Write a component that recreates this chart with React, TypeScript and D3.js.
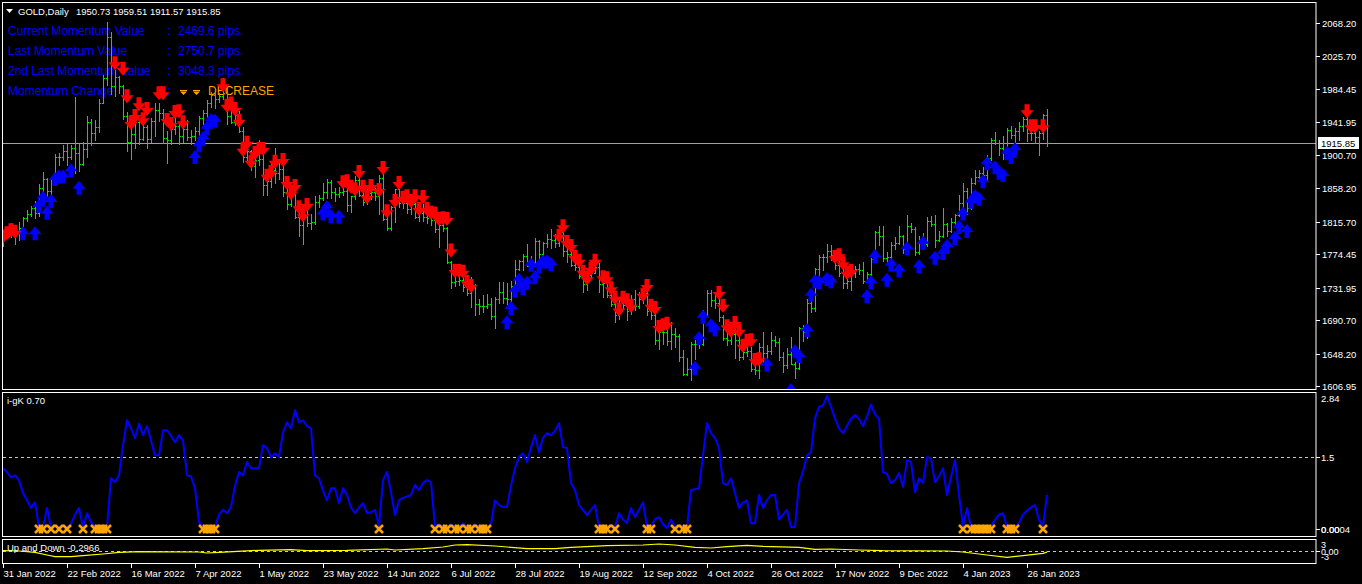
import React, { useEffect, useRef } from 'react'
import * as d3 from 'd3'

// daily bars: [open, high, low, close]
const jan22 = [[1791, 1801, 1785, 1797]]
const feb22 = [
  [1797, 1808, 1795, 1801], [1801, 1814, 1796, 1808], [1808, 1809, 1788, 1804], [1804, 1815, 1792, 1808],
  [1808, 1822, 1806, 1820], [1820, 1830, 1817, 1826], [1826, 1836, 1823, 1833], [1833, 1842, 1821, 1827],
  [1827, 1864, 1823, 1859], [1859, 1879, 1849, 1870], [1870, 1871, 1848, 1855], [1855, 1872, 1850, 1871],
  [1871, 1902, 1869, 1898], [1898, 1903, 1888, 1898], [1898, 1913, 1894, 1906], [1906, 1914, 1888, 1898],
  [1898, 1913, 1896, 1909], [1909, 1974, 1878, 1903], [1903, 1915, 1880, 1889], [1889, 1917, 1888, 1908]
]
const mar22 = [
  [1908, 1950, 1898, 1943], [1943, 1946, 1913, 1928], [1928, 1945, 1920, 1936], [1936, 1971, 1930, 1966],
  [1966, 2002, 1966, 1998], [1998, 2070, 1989, 2050], [2050, 2057, 1978, 1988], [1988, 2009, 1976, 2000],
  [2000, 2001, 1979, 1988], [1988, 1989, 1946, 1950], [1950, 1955, 1906, 1917], [1917, 1947, 1895, 1927],
  [1927, 1949, 1909, 1942], [1942, 1944, 1915, 1921], [1921, 1939, 1920, 1936], [1936, 1939, 1910, 1921],
  [1921, 1948, 1917, 1944], [1944, 1966, 1925, 1958], [1958, 1966, 1944, 1954], [1954, 1959, 1916, 1922],
  [1922, 1931, 1890, 1919], [1919, 1940, 1915, 1933], [1933, 1950, 1927, 1937]
]
const apr22 = [
  [1937, 1941, 1915, 1925], [1925, 1936, 1917, 1933], [1933, 1945, 1920, 1923], [1923, 1932, 1915, 1925],
  [1925, 1936, 1920, 1931], [1931, 1950, 1925, 1947], [1947, 1958, 1940, 1954], [1954, 1970, 1948, 1966],
  [1966, 1981, 1962, 1977], [1977, 1980, 1960, 1971], [1971, 1979, 1968, 1975], [1975, 1998, 1972, 1979],
  [1979, 1986, 1940, 1950], [1950, 1957, 1941, 1942], [1942, 1959, 1938, 1951], [1951, 1956, 1930, 1931],
  [1931, 1936, 1891, 1898], [1898, 1912, 1890, 1905], [1905, 1907, 1882, 1886], [1886, 1909, 1872, 1894],
  [1894, 1920, 1888, 1896]
]
const may22 = [
  [1896, 1900, 1850, 1862], [1862, 1873, 1850, 1868], [1868, 1892, 1860, 1881], [1881, 1910, 1865, 1877],
  [1877, 1893, 1870, 1883], [1883, 1886, 1848, 1854], [1854, 1865, 1832, 1838], [1838, 1858, 1836, 1852],
  [1852, 1858, 1821, 1822], [1822, 1829, 1798, 1811], [1811, 1826, 1787, 1824], [1824, 1835, 1810, 1814],
  [1814, 1826, 1807, 1815], [1815, 1849, 1813, 1841], [1841, 1850, 1834, 1846], [1846, 1865, 1843, 1853],
  [1853, 1870, 1846, 1866], [1866, 1869, 1846, 1853], [1853, 1858, 1842, 1851], [1851, 1860, 1847, 1853],
  [1853, 1860, 1850, 1855], [1855, 1860, 1829, 1837]
]
const jun22 = [
  [1837, 1849, 1828, 1848], [1848, 1874, 1844, 1869], [1869, 1872, 1848, 1850], [1850, 1855, 1837, 1841],
  [1841, 1857, 1838, 1852], [1852, 1860, 1845, 1853], [1853, 1858, 1843, 1848], [1848, 1875, 1825, 1871],
  [1871, 1879, 1818, 1819], [1819, 1832, 1805, 1808], [1808, 1836, 1805, 1834], [1834, 1857, 1815, 1857],
  [1857, 1857, 1834, 1839], [1839, 1846, 1833, 1839], [1839, 1844, 1827, 1832], [1832, 1847, 1825, 1838],
  [1838, 1840, 1820, 1822], [1822, 1830, 1816, 1827], [1827, 1838, 1816, 1822], [1822, 1829, 1814, 1820],
  [1820, 1829, 1812, 1818], [1818, 1829, 1802, 1807]
]
const jul22 = [
  [1807, 1813, 1784, 1811], [1811, 1814, 1804, 1808], [1808, 1809, 1763, 1764], [1764, 1766, 1732, 1739],
  [1739, 1752, 1734, 1740], [1740, 1752, 1735, 1742], [1742, 1744, 1728, 1733], [1733, 1737, 1722, 1725],
  [1725, 1745, 1707, 1735], [1735, 1736, 1697, 1711], [1711, 1717, 1698, 1708], [1708, 1723, 1701, 1709],
  [1709, 1724, 1706, 1711], [1711, 1719, 1692, 1696], [1696, 1720, 1681, 1718], [1718, 1739, 1712, 1727],
  [1727, 1739, 1712, 1719], [1719, 1738, 1711, 1717], [1717, 1740, 1711, 1734], [1734, 1767, 1729, 1755],
  [1755, 1767, 1754, 1766]
]
const aug22 = [
  [1766, 1775, 1754, 1772], [1772, 1788, 1759, 1760], [1760, 1772, 1754, 1765], [1765, 1795, 1763, 1791],
  [1791, 1792, 1754, 1775], [1775, 1790, 1771, 1789], [1789, 1800, 1784, 1794], [1794, 1807, 1782, 1792],
  [1792, 1800, 1783, 1789], [1789, 1804, 1785, 1802], [1802, 1803, 1772, 1779], [1779, 1782, 1765, 1775],
  [1775, 1781, 1759, 1761], [1761, 1767, 1754, 1758], [1758, 1759, 1744, 1747], [1747, 1750, 1727, 1736],
  [1736, 1750, 1729, 1748], [1748, 1758, 1744, 1751], [1751, 1765, 1750, 1758], [1758, 1763, 1727, 1737],
  [1737, 1740, 1720, 1738], [1738, 1740, 1720, 1723], [1723, 1730, 1708, 1711]
]
const sep22 = [
  [1711, 1712, 1688, 1697], [1697, 1720, 1692, 1712], [1712, 1717, 1706, 1710], [1710, 1718, 1691, 1702],
  [1702, 1723, 1698, 1718], [1718, 1729, 1704, 1708], [1708, 1727, 1706, 1717], [1717, 1735, 1712, 1725],
  [1725, 1729, 1697, 1702], [1702, 1707, 1692, 1697], [1697, 1700, 1660, 1665], [1665, 1680, 1654, 1675],
  [1675, 1680, 1660, 1675], [1675, 1679, 1659, 1664], [1664, 1688, 1654, 1673], [1673, 1681, 1656, 1671],
  [1671, 1673, 1639, 1644], [1644, 1653, 1621, 1622], [1622, 1642, 1621, 1629], [1629, 1663, 1615, 1660],
  [1660, 1665, 1641, 1660], [1660, 1676, 1655, 1660]
]
const oct22 = [
  [1660, 1703, 1659, 1699], [1699, 1729, 1697, 1725], [1725, 1729, 1708, 1716], [1716, 1722, 1706, 1712],
  [1712, 1723, 1690, 1695], [1695, 1697, 1666, 1668], [1668, 1675, 1659, 1666], [1666, 1678, 1660, 1673],
  [1673, 1683, 1642, 1666], [1666, 1671, 1640, 1644], [1644, 1657, 1641, 1650], [1650, 1662, 1645, 1652],
  [1652, 1656, 1626, 1629], [1629, 1646, 1622, 1627], [1627, 1662, 1617, 1657], [1657, 1675, 1638, 1649],
  [1649, 1659, 1640, 1652], [1652, 1675, 1648, 1665], [1665, 1670, 1658, 1663], [1663, 1668, 1640, 1644],
  [1644, 1650, 1625, 1633]
]
const nov22 = [
  [1633, 1655, 1630, 1647], [1647, 1669, 1635, 1635], [1635, 1638, 1617, 1630], [1630, 1682, 1628, 1681],
  [1681, 1684, 1664, 1676], [1676, 1717, 1668, 1712], [1712, 1722, 1701, 1706], [1706, 1757, 1702, 1755],
  [1755, 1774, 1748, 1771], [1771, 1775, 1754, 1771], [1771, 1787, 1765, 1778], [1778, 1786, 1767, 1774],
  [1774, 1775, 1755, 1761], [1761, 1768, 1747, 1750], [1750, 1755, 1732, 1738], [1738, 1745, 1731, 1740],
  [1740, 1753, 1729, 1750], [1750, 1760, 1746, 1755], [1755, 1762, 1749, 1754], [1754, 1764, 1738, 1741],
  [1741, 1752, 1739, 1749], [1749, 1769, 1743, 1768]
]
const dec22 = [
  [1768, 1804, 1767, 1803], [1803, 1810, 1786, 1797], [1797, 1810, 1766, 1769], [1769, 1777, 1765, 1771],
  [1771, 1790, 1769, 1786], [1786, 1796, 1781, 1789], [1789, 1810, 1788, 1797], [1797, 1799, 1776, 1781],
  [1781, 1824, 1777, 1810], [1810, 1814, 1802, 1807], [1807, 1809, 1773, 1777], [1777, 1798, 1775, 1793],
  [1793, 1801, 1785, 1788], [1788, 1822, 1785, 1817], [1817, 1823, 1810, 1813], [1813, 1824, 1784, 1792],
  [1792, 1804, 1791, 1798], [1798, 1833, 1796, 1813], [1813, 1814, 1797, 1804], [1804, 1820, 1803, 1815],
  [1815, 1826, 1812, 1824]
]
const jan23 = [
  [1824, 1850, 1823, 1839], [1839, 1865, 1835, 1855], [1855, 1859, 1825, 1833], [1833, 1871, 1832, 1865],
  [1865, 1881, 1864, 1872], [1872, 1882, 1867, 1877], [1877, 1885, 1867, 1875], [1875, 1901, 1867, 1897],
  [1897, 1922, 1894, 1920], [1920, 1930, 1915, 1916], [1916, 1920, 1900, 1909], [1909, 1924, 1896, 1904],
  [1904, 1935, 1902, 1932], [1932, 1937, 1922, 1926], [1926, 1935, 1917, 1931], [1931, 1942, 1920, 1937],
  [1937, 1949, 1931, 1946], [1946, 1949, 1918, 1929], [1929, 1936, 1919, 1928], [1928, 1933, 1916, 1923],
  [1923, 1931, 1900, 1928]
]
const feb23 = [[1928, 1952, 1921, 1950.73], [1950.73, 1959.51, 1911.57, 1915.85]]

const bars = [...jan22, ...feb22, ...mar22, ...apr22, ...may22, ...jun22, ...jul22, ...aug22, ...sep22, ...oct22, ...nov22, ...dec22, ...jan23, ...feb23]

// one date label every 16 bars
const dateLabels = [
  '31 Jan 2022', '22 Feb 2022', '16 Mar 2022', '7 Apr 2022', '1 May 2022', '23 May 2022', '14 Jun 2022',
  '6 Jul 2022', '28 Jul 2022', '19 Aug 2022', '12 Sep 2022', '4 Oct 2022', '26 Oct 2022', '17 Nov 2022',
  '9 Dec 2022', '4 Jan 2023', '26 Jan 2023'
]
const priceTicks = [2068.2, 2025.7, 1984.45, 1941.95, 1900.7, 1858.2, 1815.7, 1774.45, 1731.95, 1690.7, 1648.2, 1606.95]
const lastPrice = 1915.85

// signal arrows: [bar index, price]
const downArrows = [
  [0, 1797], [1, 1801], [2, 1805], [3, 1803],
  [28, 2017], [30, 2010], [31, 1975], [32, 1941], [33, 1950], [34, 1965], [35, 1946], [36, 1959], [39, 1979], [40, 1979],
  [41, 1945], [42, 1940], [43, 1955], [44, 1956], [45, 1942],
  [55, 1989], [56, 1963], [57, 1966], [58, 1959], [59, 1944], [60, 1907], [61, 1916], [62, 1892], [63, 1903], [64, 1908],
  [65, 1908], [66, 1874], [67, 1879], [68, 1892], [70, 1894], [71, 1865], [72, 1852], [73, 1861], [74, 1834], [75, 1824], [76, 1837],
  [85, 1866], [86, 1867], [87, 1860], [88, 1857], [89, 1879], [90, 1860], [91, 1847], [92, 1861], [94, 1856], [95, 1884],
  [96, 1829], [98, 1842], [99, 1865], [100, 1846], [101, 1848], [102, 1842], [103, 1848], [104, 1832], [105, 1847], [106, 1832],
  [107, 1827], [108, 1826], [109, 1819], [110, 1820], [111, 1819], [112, 1779], [113, 1753], [114, 1753], [115, 1752], [116, 1739], [117, 1734],
  [139, 1798], [140, 1810], [141, 1790], [142, 1785], [143, 1771], [144, 1766], [145, 1752], [146, 1744], [147, 1756], [148, 1766],
  [150, 1745], [151, 1744], [152, 1731], [153, 1719], [154, 1704], [155, 1719], [156, 1716], [157, 1709], [160, 1723], [161, 1734],
  [162, 1709], [163, 1706], [164, 1682], [165, 1684], [166, 1686],
  [179, 1725], [180, 1709], [181, 1683], [182, 1677], [183, 1687], [184, 1677], [185, 1658], [186, 1664], [187, 1665], [188, 1640], [189, 1641],
  [208, 1771], [209, 1773], [210, 1763], [211, 1751], [212, 1753],
  [256, 1956], [257, 1937], [258, 1937], [260, 1937]
]
const upArrows = [
  [5, 1801], [8, 1801], [9, 1836], [10, 1846], [11, 1827], [12, 1842], [13, 1870], [14, 1873], [15, 1873], [17, 1881], [19, 1859],
  [48, 1898], [49, 1913], [50, 1922], [51, 1935], [52, 1945], [53, 1944],
  [80, 1826], [81, 1834], [82, 1823], [84, 1822],
  [126, 1688], [127, 1706], [128, 1728], [129, 1742], [130, 1731], [131, 1738], [132, 1761], [133, 1745], [134, 1759], [135, 1765],
  [136, 1765], [137, 1762],
  [173, 1630], [174, 1668], [175, 1695], [177, 1684], [178, 1679],
  [191, 1634], [197, 1602], [198, 1651], [199, 1645], [201, 1678], [202, 1723], [203, 1740], [204, 1739], [206, 1743], [207, 1740],
  [216, 1721], [217, 1739], [218, 1772], [221, 1742], [222, 1761], [224, 1754], [226, 1782], [229, 1759], [230, 1789], [233, 1770],
  [235, 1776], [236, 1785], [238, 1795], [239, 1809], [240, 1826], [241, 1804], [242, 1841], [243, 1848], [244, 1845], [245, 1867],
  [246, 1890], [248, 1885], [249, 1878], [250, 1875], [251, 1903], [252, 1898], [253, 1908]
]

// i-gK indicator, one value per bar
const gkValues = [
  1.27, 1.19, 1.08, 1.12, 1.02, 0.75, 0.6, 0.44, 0.56, 0.04,
  0.04, 0.44, 0.04, 0.06, 0.04, 0.06, 0.04, 0.1, 0.3, 0.44,
  0.04, 0.33, 0.15, 0.04, 0.04, 0.04, 0.04, 1.06, 0.98, 1.12,
  1.75, 2.27, 2.1, 1.9, 2.2, 1.96, 2.15, 1.85, 1.54, 1.54,
  2.06, 2.06, 1.95, 1.81, 1.96, 1.85, 1.12, 1.1, 0.85, 0.15,
  0.04, 0.04, 0.06, 0.04, 0.3, 0.4, 0.33, 0.46, 0.9, 1.19,
  1.12, 1.4, 1.27, 1.27, 1.27, 1.75, 1.69, 1.5, 1.58, 1.5,
  2.02, 2.23, 2.1, 2.48, 2.23, 2.27, 2.15, 2.1, 1.12, 1.06,
  0.8, 0.6, 0.85, 0.85, 0.54, 0.85, 0.71, 0.45, 0.33, 0.45,
  0.54, 0.33, 0.35, 0.4, 0.06, 1.02, 1.19, 0.77, 0.29, 0.6,
  0.65, 0.68, 0.71, 0.92, 0.81, 0.96, 1.02, 0.98, 0.06, 0.1,
  0.04, 0.04, 0.1, 0.04, 0.04, 0.12, 0.04, 0.04, 0.1, 0.04,
  0.04, 0.04, 0.1, 0.6, 0.5, 0.46, 0.46, 0.9, 1.27, 1.5,
  1.58, 1.4, 1.7, 1.96, 1.6, 1.9, 2.0, 1.96, 2.05, 2.21,
  1.71, 1.69, 0.96, 0.81, 0.5, 0.4, 0.29, 0.4, 0.5, 0.04,
  0.04, 0.04, 0.08, 0.04, 0.33, 0.2, 0.12, 0.44, 0.25, 0.4,
  0.56, 0.06, 0.06, 0.2, 0.25, 0.1, 0.02, 0.19, 0.06, 0.06,
  0.04, 0.04, 0.81, 0.83, 0.85, 1.54, 2.21, 2.0, 1.9, 1.7,
  0.96, 0.92, 1.06, 0.75, 0.44, 0.55, 0.6, 0.12, 0.12, 0.71,
  0.44, 0.6, 0.71, 0.71, 0.2, 0.3, 0.4, 0.04, 0.04, 0.95,
  1.2, 1.54, 1.6, 2.31, 2.55, 2.58, 2.78, 2.55, 2.31, 2.1,
  2.0, 2.15, 2.3, 2.38, 2.3, 2.15, 2.35, 2.6, 2.4, 2.3,
  1.19, 1.15, 0.96, 1.02, 1.17, 0.88, 1.44, 1.4, 0.77, 1.06,
  0.96, 1.5, 1.48, 0.98, 1.1, 1.27, 0.71, 1.08, 1.44, 0.71,
  0.06, 0.44, 0.04, 0.04, 0.06, 0.04, 0.04, 0.06, 0.19, 0.3,
  0.33, 0.04, 0.04, 0.04, 0.12, 0.3, 0.38, 0.45, 0.5, 0.19,
  0.06, 0.71
]
// bars where the orange cross is printed at the bottom of the i-gK pane
const gkCrosses = [
  9, 10, 12, 14, 16, 20, 23, 24, 25, 26, 50, 51, 52, 53, 94, 108, 110, 111, 113, 114, 116, 117, 119, 120, 121,
  149, 150, 151, 153, 161, 162, 168, 170, 171, 240, 242, 243, 244, 245, 246, 247, 251, 252, 253, 260
]

// Up and Down line, read at a few bars: [bar index, value]
const upDownPoints = [
  [0, 0.1], [4, 0], [8, -0.35], [11, -1], [13, -1.4], [17, -1.4], [20, -1.15], [25, -0.75], [29, -0.35], [34, -0.17],
  [49, -0.25], [51, -0.5], [54, -0.33], [64, 0.17], [72, 0.33], [76, 0.08], [86, 0.17], [96, 0.5], [98, 0.25], [105, 0.58],
  [110, 1], [113, 1.5], [116, 1.58], [123, 1.25], [131, 0.58], [138, 0.58], [142, 0.92], [151, 1.33], [160, 1.5], [164, 1.75],
  [168, 1.5], [173, 0.92], [177, 0.75], [181, 1.08], [186, 1.42], [190, 1.17], [199, 0.92], [203, 0.42], [207, 0.5], [214, 0.25],
  [220, 0.08], [236, 0], [240, -0.25], [246, -1], [251, -1.58], [255, -1.17], [260, -0.58], [261, -0.3]
]

const momentumLabels = ['Current Momentum Value', 'Last Momentum Value', '2nd Last Momentum Value', 'Momentum Change']
const momentumValues = ['2469.6 pips.', '2750.7 pips.', '3048.3 pips.']

const W = 1362
const H = 584
const FONT = "'Liberation Sans', Arial, sans-serif"

const arrowPath = (cx: number, cy: number, dir: number) => {
  const pts = [[-2.5, -7], [2.5, -7], [2.5, -1], [6.5, -1], [0, 7], [-6.5, -1], [-2.5, -1]]
  return 'M' + pts.map(([dx, dy]) => `${cx + dx},${cy + dy * dir}`).join('L') + 'Z'
}

const Chart = () => {
  const ref = useRef<SVGSVGElement>(null)

  useEffect(() => {
    const svg = d3.select(ref.current)
    svg.selectAll('*').remove()

    const x = d3.scaleLinear().domain([0, bars.length - 1]).range([3, 1047])
    const yPrice = d3.scaleLinear().domain([1606.95, 2068.2]).range([386, 23])
    const yGk = d3.scaleLinear().domain([0, 2.84]).range([529, 393])
    const yUd = d3.scaleLinear().domain([-3, 3]).range([563, 539])

    svg.append('rect').attr('width', W).attr('height', H).attr('fill', '#000')

    const defs = svg.append('defs')
    const addClip = (id: string, y0: number, y1: number) =>
      defs.append('clipPath').attr('id', id).append('rect').attr('x', 3).attr('y', y0).attr('width', 1313).attr('height', y1 - y0)
    addClip('clip-main', 3, 389)
    addClip('clip-gk', 393, 536)
    addClip('clip-ud', 540, 563)

    const text = (g: any, tx: number, ty: number, s: string, size: number, color: string) =>
      g.append('text').attr('x', tx).attr('y', ty).attr('font-family', FONT).attr('font-size', size).attr('fill', color).text(s)

    // ---- main pane
    const main = svg.append('g').attr('clip-path', 'url(#clip-main)')

    // info text (drawn under the bars)
    momentumLabels.forEach((s, i) => {
      text(main, 8, 35 + i * 20, s, 12, '#0000ff')
      text(main, 167, 35 + i * 20, ':', 12, '#0000ff')
      if (i < 3) text(main, 178, 35 + i * 20, momentumValues[i], 12, '#0000ff')
    })
    ;[180, 193].forEach(tx => {
      main.append('rect').attr('x', tx).attr('y', 90).attr('width', 7).attr('height', 1).attr('fill', '#ffa500')
      main.append('path').attr('d', `M${tx},91.5L${tx + 7},91.5L${tx + 3.5},95Z`).attr('fill', '#ffa500')
    })
    text(main, 208, 95, 'DECREASE', 12, '#ffa500')

    // current price line
    const yLast = Math.round(yPrice(lastPrice)) + 0.5
    main.append('line').attr('x1', 3).attr('x2', 1316).attr('y1', yLast).attr('y2', yLast).attr('stroke', '#a0a0a4')

    // OHLC bars
    const barG = main.append('g').attr('fill', '#00e600').attr('shape-rendering', 'crispEdges')
    bars.forEach((b, i) => {
      const bx = Math.round(x(i))
      const yh = Math.round(yPrice(b[1]))
      const yl = Math.round(yPrice(b[2]))
      barG.append('rect').attr('x', bx).attr('y', yh).attr('width', 1).attr('height', Math.max(1, yl - yh + 1))
      barG.append('rect').attr('x', bx - 1).attr('y', Math.round(yPrice(b[0]))).attr('width', 1).attr('height', 1)
      barG.append('rect').attr('x', bx + 1).attr('y', Math.round(yPrice(b[3]))).attr('width', 1).attr('height', 1)
    })

    // signal arrows
    main.append('g').selectAll('path').data(upArrows).join('path')
      .attr('d', d => arrowPath(x(d[0]), yPrice(d[1]), -1)).attr('fill', '#0000ff')
    main.append('g').selectAll('path').data(downArrows).join('path')
      .attr('d', d => arrowPath(x(d[0]), yPrice(d[1]), 1)).attr('fill', '#ff0000')

    // header
    svg.append('path').attr('d', 'M6,9L13,9L9.5,13Z').attr('fill', '#fff')
    text(svg, 18, 15, 'GOLD,Daily', 9.5, '#fff')
    text(svg, 76, 15, '1950.73 1959.51 1911.57 1915.85', 9.5, '#fff')

    // price scale
    priceTicks.forEach(p => {
      const ty = Math.round(yPrice(p)) + 0.5
      svg.append('line').attr('x1', 1316).attr('x2', 1320).attr('y1', ty).attr('y2', ty).attr('stroke', '#fff')
      text(svg, 1322, ty + 3.5, p.toFixed(2), 9.5, '#fff')
    })
    svg.append('rect').attr('x', 1318).attr('y', yLast - 6.5).attr('width', 41).attr('height', 12).attr('fill', '#fff')
    text(svg, 1321, yLast + 3.5, lastPrice.toFixed(2), 9.5, '#000')

    // ---- i-gK pane
    const gk = svg.append('g').attr('clip-path', 'url(#clip-gk)')
    const yLevel = Math.round(yGk(1.5)) + 0.5
    gk.append('line').attr('x1', 3).attr('x2', 1316).attr('y1', yLevel).attr('y2', yLevel)
      .attr('stroke', '#c8c8c8').attr('stroke-dasharray', '3,3')
    text(gk, 7, 404, 'i-gK 0.70', 9.5, '#fff')
    const gkLine = d3.line<number>().x((_, i) => x(i)).y(v => yGk(v))
    gk.append('path').attr('d', gkLine(gkValues)).attr('fill', 'none').attr('stroke', '#0000ff').attr('stroke-width', 2)
      .attr('stroke-linejoin', 'round')
    gk.append('g').selectAll('path').data(gkCrosses).join('path')
      .attr('d', i => {
        const cx = x(i)
        const cy = yGk(0)
        return `M${cx - 4},${cy - 4}L${cx + 4},${cy + 4}M${cx + 4},${cy - 4}L${cx - 4},${cy + 4}`
      })
      .attr('stroke', '#ffa500').attr('stroke-width', 2.5).attr('fill', 'none')
    ;[[2.84, '2.84', 5], [1.5, '1.5', 0], [0, '0.0004', 0], [0, '0.00', 0]].forEach(([v, s, dy]) => {
      const ty = Math.round(yGk(v as number)) + (dy as number)
      if (dy === 0) svg.append('line').attr('x1', 1316).attr('x2', 1320).attr('y1', ty + 0.5).attr('y2', ty + 0.5).attr('stroke', '#fff')
      text(svg, 1321, ty + 4, s as string, 9.5, '#fff')
    })

    // ---- Up and Down pane
    const ud = svg.append('g').attr('clip-path', 'url(#clip-ud)')
    const yZero = Math.round(yUd(0)) + 0.5
    ud.append('line').attr('x1', 3).attr('x2', 1316).attr('y1', yZero).attr('y2', yZero)
      .attr('stroke', '#c8c8c8').attr('stroke-dasharray', '3,3')
    const udLine = d3.line<number[]>().x(d => x(d[0])).y(d => yUd(d[1]))
    ud.append('path').attr('d', udLine(upDownPoints)).attr('fill', 'none').attr('stroke', '#ffff00').attr('stroke-width', 1.2)
    text(ud, 7, 551, 'Up and Down -0,2966', 9.5, '#fff')
    text(svg, 1321, 548, '3', 9, '#fff')
    text(svg, 1321, 555, '0.00', 9, '#fff')
    text(svg, 1321, 560, '-3', 9, '#fff')
    svg.append('line').attr('x1', 1316).attr('x2', 1320).attr('y1', yZero).attr('y2', yZero).attr('stroke', '#fff')

    // pane frames
    ;[[2, 389], [392, 536], [539, 563]].forEach(([t, b]) => {
      svg.append('rect').attr('x', 2.5).attr('y', t + 0.5).attr('width', 1313.5).attr('height', b - t)
        .attr('fill', 'none').attr('stroke', '#fff')
    })

    // time axis
    dateLabels.forEach((s, k) => {
      const tx = Math.round(x(k * 16)) + 0.5
      svg.append('line').attr('x1', tx).attr('x2', tx).attr('y1', 564).attr('y2', 568).attr('stroke', '#fff')
      text(svg, tx, 577, s, 9.5, '#fff')
    })
  }, [])

  return <svg ref={ref} width={W} height={H} style={{ position: 'absolute', left: 0, top: 0, display: 'block' }} />
}

const App = () => <Chart />

export default App
